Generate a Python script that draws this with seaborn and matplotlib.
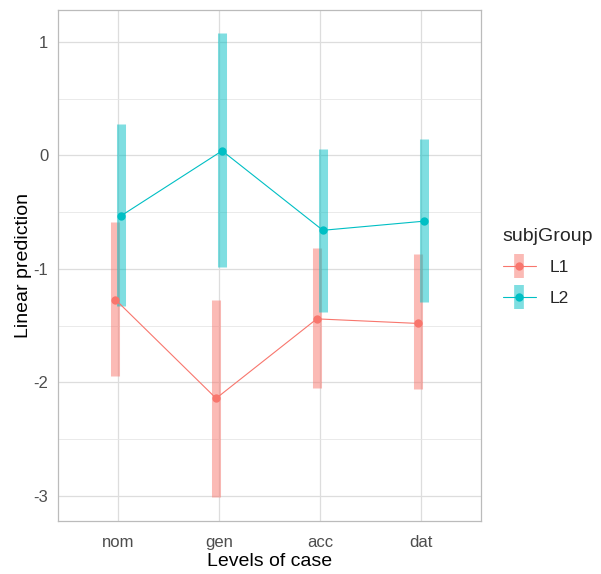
import numpy as np
import pandas as pd
import matplotlib
matplotlib.use('Agg')
import matplotlib.pyplot as plt
from matplotlib.lines import Line2D
import seaborn as sns

# emmeans-style interaction plot: estimates with confidence intervals
cases = ['nom', 'gen', 'acc', 'dat']
groups = ['L1', 'L2']

l1_est = [-1.27, -2.14, -1.44, -1.48]
l1_low = [-1.94, -3.01, -2.05, -2.06]
l1_high = [-0.59, -1.27, -0.82, -0.87]

l2_est = [-0.53, 0.04, -0.66, -0.58]
l2_low = [-1.33, -0.98, -1.38, -1.29]
l2_high = [0.28, 1.08, 0.06, 0.14]

colors = {'L1': '#F8766D', 'L2': '#00BFC4'}
dodge = {'L1': -0.03, 'L2': 0.03}

rows = []
for g, est, lo, hi in [('L1', l1_est, l1_low, l1_high), ('L2', l2_est, l2_low, l2_high)]:
    for i, c in enumerate(cases):
        rows.append({'case': c, 'subjGroup': g, 'pos': i + dodge[g],
                     'yvar': est[i], 'LCL': lo[i], 'UCL': hi[i]})
df = pd.DataFrame(rows)

sns.set_style('white')
plt.rcParams['font.family'] = ['Liberation Sans', 'DejaVu Sans']

fig = plt.figure(figsize=(6.01, 5.74), dpi=100)
ax = fig.add_axes([58 / 601, 1 - 521 / 574, (481 - 58) / 601, (521 - 10) / 574])

# confidence interval bars
for g in groups:
    sub = df[df['subjGroup'] == g]
    ax.vlines(sub['pos'], sub['LCL'], sub['UCL'], color=colors[g],
              alpha=0.5, linewidth=6.5, zorder=2)

sns.lineplot(data=df, x='pos', y='yvar', hue='subjGroup', palette=colors,
             marker='o', markersize=6, markeredgewidth=0, linewidth=0.8,
             legend=False, ax=ax, zorder=3)

ax.set_xlim(0.4 - 1, 4.6 - 1)
ax.set_ylim(-3.22, 1.28)
ax.set_xticks(range(len(cases)))
ax.set_xticklabels(cases)
ax.set_yticks([-3, -2, -1, 0, 1])
ax.set_yticklabels(['-3', '-2', '-1', '0', '1'])
ax.set_yticks([-2.5, -1.5, -0.5, 0.5], minor=True)
ax.grid(True, which='major', color='#DDDDDD', linewidth=0.9)
ax.grid(True, which='minor', axis='y', color='#E6E6E6', linewidth=0.6)
ax.set_axisbelow(True)
for s in ax.spines.values():
    s.set_color('#BBBBBB')
    s.set_linewidth(0.9)
ax.tick_params(axis='both', which='major', length=3, color='#BBBBBB',
               labelsize=12, labelcolor='#4D4D4D', pad=4)
ax.tick_params(axis='x', which='major', pad=7)
ax.tick_params(axis='y', which='minor', length=0)
ax.set_xlabel('Levels of case', fontsize=14, color='black', labelpad=2)
ax.set_ylabel('Linear prediction', fontsize=14, color='black', labelpad=1)

handles = []
for g in groups:
    bar = Line2D([], [], color=colors[g], alpha=0.5, marker='|', markersize=17,
                 markeredgewidth=7, linestyle='none')
    pt = Line2D([], [], color=colors[g], marker='o', markersize=6,
                markeredgewidth=0, linewidth=0.8)
    handles.append((bar, pt))
fig.legend(handles, groups, title='subjGroup', loc='upper left',
           bbox_to_anchor=(487 / 601, 1 - 212 / 574), frameon=False,
           fontsize=12.5, title_fontsize=14, handlelength=1.9,
           labelspacing=0.9, alignment='left')

fig.savefig('out.png', dpi=100)
